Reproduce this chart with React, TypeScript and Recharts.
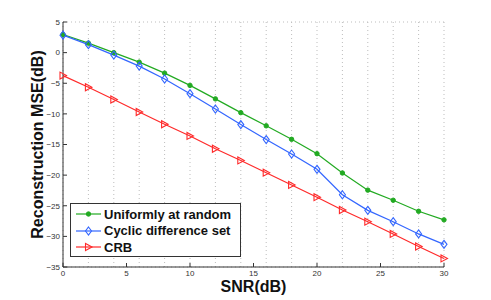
import React from "react";
import { LineChart, Line, XAxis, YAxis, CartesianGrid, Label } from "recharts";

const snr = [0, 2, 4, 6, 8, 10, 12, 14, 16, 18, 20, 22, 24, 26, 28, 30];
const uniform = [2.95, 1.55, 0, -1.55, -3.35, -5.35, -7.55, -9.8, -11.95, -14.15, -16.5, -19.65, -22.45, -24.1, -25.9, -27.3];
const cyclic = [2.85, 1.3, -0.4, -2.2, -4.3, -6.7, -9.2, -11.75, -14.2, -16.55, -19.05, -23.2, -25.75, -27.6, -29.6, -31.3];
const crb = [-3.75, -5.65, -7.65, -9.7, -11.7, -13.6, -15.7, -17.6, -19.6, -21.6, -23.6, -25.7, -27.6, -29.6, -31.65, -33.6];
const xTicks = [0, 5, 10, 15, 20, 25, 30];
const yTicks = [5, 0, -5, -10, -15, -20, -25, -30, -35];
const seriesNames = ["Uniformly at random", "Cyclic difference set", "CRB"];

const data = snr.map((s, i) => ({ snr: s, uniform: uniform[i], cyclic: cyclic[i], crb: crb[i] }));

const GREEN = "#22aa22";
const BLUE = "#3366ff";
const RED = "#ff2a2a";
const FONT = "'Liberation Sans', Arial, sans-serif";

const GreenDot = (p: any) => <circle key={p.key} cx={p.cx} cy={p.cy} r={2.2} fill={GREEN} stroke={GREEN} />;
const BlueDot = (p: any) => (
    <polygon
        key={p.key}
        points={`${p.cx},${p.cy - 4} ${p.cx + 3},${p.cy} ${p.cx},${p.cy + 4} ${p.cx - 3},${p.cy}`}
        fill="none"
        stroke={BLUE}
        strokeWidth={1.1}
    />
);
const RedDot = (p: any) => (
    <polygon
        key={p.key}
        points={`${p.cx + 3.5},${p.cy} ${p.cx - 3},${p.cy - 3.5} ${p.cx - 3},${p.cy + 3.5}`}
        fill="none"
        stroke={RED}
        strokeWidth={1.1}
    />
);

const markers = [GreenDot, BlueDot, RedDot];
const colors = [GREEN, BLUE, RED];

// legend drawn as an overlay so it doesn't steal layout space from the plot
function LegendBox() {
    return (
        <div
            style={{
                position: "absolute",
                left: 70,
                top: 203,
                width: 171,
                height: 54,
                border: "1px solid #333",
                background: "#fff",
                fontFamily: FONT,
                fontWeight: "bold",
                fontSize: 13,
                color: "#111",
                boxSizing: "border-box",
                paddingTop: 2,
            }}
        >
            {seriesNames.map((name, i) => {
                const M = markers[i];
                return (
                    <div key={name} style={{ display: "flex", alignItems: "center", height: 16.5 }}>
                        <svg width={33} height={12}>
                            <line x1={5} y1={6} x2={30} y2={6} stroke={colors[i]} strokeWidth={1.2} />
                            <M cx={17.5} cy={6} />
                        </svg>
                        <span>{name}</span>
                    </div>
                );
            })}
        </div>
    );
}

const fmt = (v: number) => String(v).replace("-", "\u2212");

export default function App() {
    return (
        <div style={{ position: "absolute", left: 0, top: 0, width: 491, height: 300, background: "#fff" }}>
            <LineChart width={491} height={300} data={data} margin={{ top: 22, right: 47, left: 23, bottom: 3 }}>
                <CartesianGrid stroke="#bdbdbd" strokeDasharray="1 3" />
                <XAxis
                    xAxisId="b"
                    dataKey="snr"
                    type="number"
                    domain={[0, 30]}
                    ticks={xTicks}
                    height={30}
                    tickSize={-4}
                    tickMargin={7}
                    stroke="#333"
                    tick={{ fontSize: 8, fill: "#333", fontFamily: FONT }}
                    tickFormatter={fmt}
                >
                    <Label
                        position="insideBottom"
                        offset={5}
                        value="SNR(dB)"
                        style={{ fontSize: 16, fontWeight: "bold", fill: "#111", fontFamily: FONT }}
                    />
                </XAxis>
                <XAxis
                    xAxisId="t"
                    dataKey="snr"
                    type="number"
                    orientation="top"
                    domain={[0, 30]}
                    ticks={xTicks}
                    height={0}
                    tickSize={-4}
                    tick={false}
                    stroke="#333"
                />
                <YAxis
                    yAxisId="l"
                    type="number"
                    domain={[-35, 5]}
                    ticks={yTicks}
                    width={40}
                    tickSize={-4}
                    tickMargin={7}
                    stroke="#333"
                    tick={{ fontSize: 8, fill: "#333", fontFamily: FONT }}
                    tickFormatter={fmt}
                >
                    <Label
                        content={() => (
                            <text
                                x={43}
                                y={144.5}
                                transform="rotate(-90 43 144.5)"
                                textAnchor="middle"
                                style={{ fontSize: 16, fontWeight: "bold", fill: "#111", fontFamily: FONT }}
                            >
                                Reconstruction MSE(dB)
                            </text>
                        )}
                    />
                </YAxis>
                <YAxis
                    yAxisId="r"
                    orientation="right"
                    type="number"
                    domain={[-35, 5]}
                    ticks={yTicks}
                    width={0}
                    tickSize={-4}
                    tick={false}
                    stroke="#333"
                />
                <Line xAxisId="b" yAxisId="l" dataKey="uniform" name={seriesNames[0]} stroke={GREEN} strokeWidth={1.2} dot={GreenDot} isAnimationActive={false} />
                <Line xAxisId="b" yAxisId="l" dataKey="cyclic" name={seriesNames[1]} stroke={BLUE} strokeWidth={1.2} dot={BlueDot} isAnimationActive={false} />
                <Line xAxisId="b" yAxisId="l" dataKey="crb" name={seriesNames[2]} stroke={RED} strokeWidth={1.2} dot={RedDot} isAnimationActive={false} />
            </LineChart>
            <LegendBox />
        </div>
    );
}
